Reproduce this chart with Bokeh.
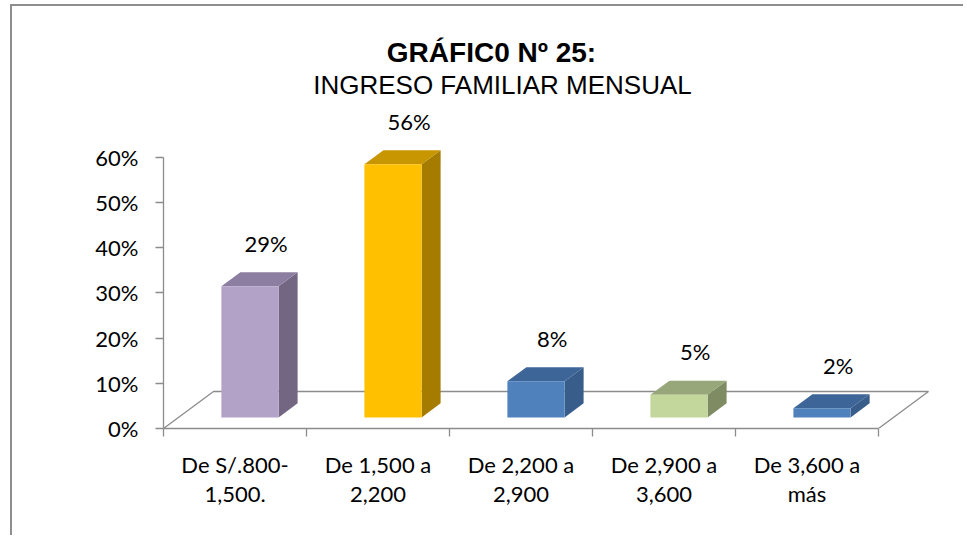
from bokeh.plotting import figure
from bokeh.models import Range1d, FixedTicker, NumeralTickFormatter, Label, LinearAxis
from bokeh.embed import file_html
from bokeh.resources import INLINE
from bokeh.core.properties import value

# ---------------- data ----------------
categories = ["De S/.800-\n1,500.", "De 1,500 a\n2,200", "De 2,200 a\n2,900",
              "De 2,900 a\n3,600", "De 3,600 a\nmás"]
values = [0.29, 0.56, 0.08, 0.05, 0.02]
value_labels = ["29%", "56%", "8%", "5%", "2%"]
y_ticks = [0.0, 0.1, 0.2, 0.3, 0.4, 0.5, 0.6]
title_line1 = "GRÁFIC0 Nº 25:"
title_line2 = "INGRESO FAMILIAR MENSUAL"

# ---------------- styles ----------------
front_colors = ["#B3A2C7", "#FFC000", "#4F81BD", "#C3D69B", "#4F81BD"]
side_colors = ["#736683", "#A67C00", "#385D8A", "#7F8C63", "#385D8A"]
top_colors = ["#8B7EA1", "#C79600", "#3E6597", "#97A779", "#3E6597"]
GRAY = "#8C8C8C"
LABEL_FONT = "Lato"

W, H = 953, 531
PX_X = 143.0   # pixels per category
PX_Y = 452.0   # pixels per 100 %
ML = 151
FRAME_H = 422
MB = H - FRAME_H
frame_w = W - ML
ORIGIN_X, ORIGIN_Y = 163, 428  # page position of the chart origin


def px_to_x(px):
    return (px - ORIGIN_X) / PX_X


def py_to_y(py):
    return (ORIGIN_Y - py) / PX_Y


# oblique projection of the 3-D floor
DX, DY = 50 / PX_X, 37 / PX_Y
F0 = 0.30          # depth at which bar front faces stand
DEPTH = 0.38       # bar depth as a fraction of floor depth
BDX, BDY = DEPTH * DX, DEPTH * DY
BAR_W = 0.40

p = figure(width=W, height=H, output_backend="svg", toolbar_location=None, tools="",
           x_range=Range1d(0, frame_w / PX_X), y_range=Range1d(0, FRAME_H / PX_Y),
           min_border_left=ML, min_border_right=0, min_border_top=0, min_border_bottom=MB,
           x_axis_type=None, y_axis_type=None, outline_line_color=None,
           background_fill_color="white", border_fill_color="white",
           margin=(4, 0, 0, 10),
           styles={"border-top": "2px solid #8E8E8E", "border-left": "2px solid #8E8E8E"})

# y axis
yax = LinearAxis(ticker=FixedTicker(ticks=y_ticks, minor_ticks=[]),
                 formatter=NumeralTickFormatter(format="0%"),
                 bounds=(0, max(y_ticks)),
                 axis_line_color=GRAY, axis_line_width=1.3,
                 major_tick_line_color=GRAY, major_tick_line_width=1.3,
                 major_tick_in=0, major_tick_out=8,
                 minor_tick_line_color=None,
                 major_label_text_font=LABEL_FONT, major_label_text_font_size="22px",
                 major_label_text_color="black", major_label_standoff=17)
p.add_layout(yax, "left")

# x axis: labels at category centres, ticks at category boundaries
n = len(categories)
centers = [i + 0.5 for i in range(n)]
xax = LinearAxis(ticker=FixedTicker(ticks=centers, minor_ticks=list(range(n + 1))),
                 bounds=(0, n),
                 major_label_overrides={c: lab for c, lab in zip(centers, categories)},
                 axis_line_color=GRAY, axis_line_width=1.3,
                 major_tick_line_color=None, major_tick_in=0, major_tick_out=0,
                 minor_tick_line_color=GRAY, minor_tick_line_width=1.3,
                 minor_tick_in=0, minor_tick_out=8,
                 major_label_text_font=LABEL_FONT, major_label_text_font_size="22px",
                 major_label_text_color="black", major_label_standoff=14,
                 major_label_text_line_height=1.1)
p.add_layout(xax, "below")

# floor outline (front edge is the x axis line)
p.line([0, DX, n + DX, n], [0, DY, DY, 0], line_color=GRAY, line_width=1.3)

# bars
front_xs, front_ys, side_xs, side_ys, top_xs, top_ys = [], [], [], [], [], []
lab_x, lab_y = [], []
for i, v in enumerate(values):
    cx = i + 0.5 + F0 * DX
    x0, x1 = cx - BAR_W / 2, cx + BAR_W / 2
    y0 = F0 * DY
    y1 = y0 + v
    front_xs.append([x0, x1, x1, x0]); front_ys.append([y0, y0, y1, y1])
    side_xs.append([x1, x1 + BDX, x1 + BDX, x1]); side_ys.append([y0, y0 + BDY, y1 + BDY, y1])
    top_xs.append([x0, x1, x1 + BDX, x0 + BDX]); top_ys.append([y1, y1, y1 + BDY, y1 + BDY])
    lab_x.append(cx + BDX * 0.85)
    lab_y.append(y1 + BDY)

p.patches(side_xs, side_ys, fill_color=side_colors, line_color=None)
p.patches(top_xs, top_ys, fill_color=top_colors, line_color=None)
p.patches(front_xs, front_ys, fill_color=front_colors, line_color=None)

p.text(x=lab_x, y=lab_y, text=value_labels, text_font=value(LABEL_FONT),
       text_font_size="22px", text_align="center", text_baseline="middle",
       text_color="black", y_offset=-29)

# titles
p.add_layout(Label(x=px_to_x(491), y=py_to_y(52), text=title_line1,
                   text_font="Liberation Sans", text_font_style="bold",
                   text_font_size="28px", text_align="center",
                   text_baseline="alphabetic", text_color="black"))
p.add_layout(Label(x=px_to_x(502), y=py_to_y(84), text=title_line2,
                   text_font="Liberation Sans", text_font_style="normal",
                   text_font_size="26px", text_align="center",
                   text_baseline="alphabetic", text_color="black"))

open("out.html", "w").write(file_html(p, INLINE))
